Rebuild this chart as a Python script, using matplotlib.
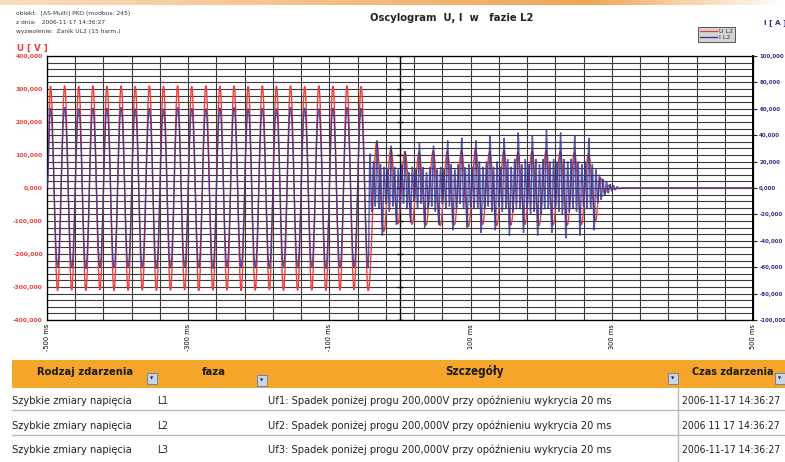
import numpy as np
import matplotlib.pyplot as plt
from matplotlib import font_manager as fm
from matplotlib.path import Path
from matplotlib.patches import PathPatch, Rectangle
from matplotlib.lines import Line2D

# header / title texts
info_lines = ["obiekt:  [AS-Multi] PKO (modbus: 245)",
              "z dnia:   2006-11-17 14:36:27",
              "wyzwolenie:  Zanik UL2 (15 harm.)"]
title = "Oscylogram  U, I  w   fazie L2"
series_names = ["U L2", "I L2"]

# axes ticks
x_ticks = [-500, -300, -100, 100, 300, 500]
x_tick_labels = ["-500 ms", "-300 ms", "-100 ms", "100 ms", "300 ms", "500 ms"]
u_ticks = [-400000, -300000, -200000, -100000, 0, 100000, 200000, 300000, 400000]
u_tick_labels = ["-400,000", "-300,000", "-200,000", "-100,000", "0,000",
                 "100,000", "200,000", "300,000", "400,000"]
i_ticks = [-100000, -80000, -60000, -40000, -20000, 0, 20000, 40000, 60000, 80000, 100000]
i_tick_labels = ["-100,000", "-80,000", "-60,000", "-40,000", "-20,000", "0,000",
                 "20,000", "40,000", "60,000", "80,000", "100,000"]

# before the dip: peak / trough values every half period (ms)
t_pre = [-500, -495, -485, -475, -465, -455, -445, -435, -425, -415, -405,
         -395, -385, -375, -365, -355, -345, -335, -325, -315, -305,
         -295, -285, -275, -265, -255, -245, -235, -225, -215, -205,
         -195, -185, -175, -165, -155, -145, -135, -125, -115, -105,
         -95, -85, -75, -65, -55, -45]
u_pre = [0,
         309000, -311000, 310000, -310000, 308000, -311000, 310000, -309000, 309000, -311000,
         310000, -310000, 308000, -310000, 310000, -311000, 309000, -310000, 310000, -309000,
         308000, -311000, 310000, -310000, 309000, -310000, 310000, -311000, 308000, -310000,
         310000, -309000, 309000, -311000, 310000, -310000, 308000, -310000, 310000, -311000,
         309000, -310000, 310000, -309000, 308000, -311000]
i_pre = [0,
         60500, -60000, 61000, -60500, 60000, -61000, 60500, -60000, 60500, -60500,
         61000, -60000, 60000, -60500, 60500, -61000, 60000, -60500, 61000, -60000,
         60500, -60500, 60000, -61000, 60500, -60000, 61000, -60500, 60000, -60500,
         60500, -61000, 60000, -60000, 61000, -60500, 60500, -60000, 60000, -61000,
         60500, -60500, 61000, -60000, 60500, -60500]

# after the dip: voltage
t_u_post = [-33, -23, -13, -3, 7, 17, 27, 37, 47, 57, 67, 77, 87, 97, 107, 117,
            127, 137, 147, 157, 167, 177, 187, 197, 207, 217, 227, 237, 247, 257,
            267, 277, 284, 290, 296, 302, 310, 500]
u_post = [140000, -132000, 118000, -108000, 110000, -110000, 108000, -112000,
          112000, -114000, 110000, -112000, 112000, -116000, 116000, -110000,
          110000, -114000, 112000, -112000, 108000, -110000, 112000, -114000,
          114000, -112000, 110000, -112000, 108000, -110000, 104000, -100000,
          30000, -15000, 8000, -3000, 0, 0]

# after the dip: current, one row per 20 ms cycle
i_post_cycle_start = [-42.5, -22.5, -2.5, 17.5, 37.5, 57.5, 77.5, 97.5,
                      117.5, 137.5, 157.5, 177.5, 197.5, 217.5, 237.5, 257.5]
i_post_offsets = [0, 2.5, 5, 7.5, 10, 12.5, 15, 17.5]
i_post = [
    [26000, -18000, 20000, -14000, 36000, -16000, 18000, -36000],
    [16000, -12000, 14000, -18000, 32000, -14000, 16000, -28000],
    [14000, -16000, 18000, -12000, 28000, -16000, 12000, -26000],
    [16000, -10000, 14000, -16000, 34000, -12000, 16000, -30000],
    [12000, -16000, 16000, -14000, 32000, -18000, 14000, -28000],
    [16000, -12000, 14000, -16000, 36000, -14000, 18000, -32000],
    [14000, -16000, 18000, -12000, 38000, -16000, 16000, -30000],
    [18000, -14000, 16000, -16000, 36000, -16000, 20000, -34000],
    [16000, -16000, 20000, -14000, 40000, -18000, 16000, -32000],
    [20000, -14000, 16000, -18000, 38000, -16000, 22000, -36000],
    [16000, -18000, 22000, -16000, 42000, -16000, 18000, -34000],
    [22000, -16000, 18000, -20000, 40000, -18000, 22000, -36000],
    [18000, -20000, 22000, -16000, 44000, -16000, 20000, -34000],
    [22000, -16000, 20000, -18000, 42000, -20000, 22000, -38000],
    [20000, -18000, 22000, -16000, 40000, -18000, 20000, -36000],
    [18000, -14000, 20000, -16000, 38000, -16000, 18000, -32000],
]
t_i_tail = [277.5, 280, 282.5, 285, 287.5, 290, 292.5, 295, 297.5, 300,
            302.5, 305, 307.5, 310, 315, 500]
i_tail = [14000, -11000, 10000, -9000, 7000, -6000, 5000, -4000, 3000, -2500,
          2000, -1500, 1000, -600, 0, 0]

# event table
table_cols = ["Rodzaj zdarzenia", "faza", "Szczegóły", "Czas zdarzenia"]
ev_type = ["Szybkie zmiary napięcia"] * 3
ev_phase = ["L1", "L2", "L3"]
ev_detail = ["Uf1: Spadek poniżej progu 200,000V przy opóźnieniu wykrycia 20 ms",
             "Uf2: Spadek poniżej progu 200,000V przy opóźnieniu wykrycia 20 ms",
             "Uf3: Spadek poniżej progu 200,000V przy opóźnieniu wykrycia 20 ms"]
ev_time = ["2006-11-17 14:36:27", "2006 11 17 14:36:27", "2006-11-17 14:36:27"]

RED = "#E8413C"
BLUE = "#2E3192"
W, H = 785, 462


def smooth_path(t, v, k=0.36):
    # cubic segments with flat tangents at each peak
    verts = [(t[0], v[0])]
    codes = [Path.MOVETO]
    for i in range(len(t) - 1):
        dt = t[i + 1] - t[i]
        verts += [(t[i] + k * dt, v[i]), (t[i + 1] - k * dt, v[i + 1]), (t[i + 1], v[i + 1])]
        codes += [Path.CURVE4] * 3
    return Path(verts, codes)


# pick a narrow face for the table if there is one
names = {f.name for f in fm.fontManager.ttflist}
if "Liberation Sans Narrow" in names:
    narrow = dict(family=["Liberation Sans Narrow", "DejaVu Sans"])
else:
    narrow = dict(family=["DejaVu Sans"], fontstretch="condensed")

u_t = t_pre + t_u_post
u_v = u_pre + u_post
i_t = list(t_pre)
i_v = list(i_pre)
for start, row in zip(i_post_cycle_start, i_post):
    i_t += [start + o for o in i_post_offsets]
    i_v += row
i_t += t_i_tail
i_v += i_tail

fig = plt.figure(figsize=(W / 100, H / 100), dpi=100)
fig.patch.set_facecolor("white")

ax = fig.add_axes([47 / W, 1 - 320 / H, 706 / W, 264 / H])
ax.set_xlim(-500, 500)
ax.set_ylim(-400000, 400000)
for gx in np.arange(-500, 501, 40):
    ax.axvline(gx, color="#3a3a3a", lw=0.8, zorder=0.5)
for gy in np.arange(-400000, 400001, 20000):
    ax.axhline(gy, color="#3a3a3a", lw=0.8, zorder=0.5)
ax.axvline(0, color="black", lw=1.0, zorder=0.6)
ax.plot([0] * len(u_ticks), u_ticks, ls="none", marker="_", ms=4, color="black", zorder=0.6)

ax.add_patch(PathPatch(smooth_path(u_t, u_v), fill=False, edgecolor=RED, lw=1.0, zorder=2))
ax.set_xticks(x_ticks, x_tick_labels, rotation=90, fontsize=4.8, va="top")
ax.set_yticks(u_ticks, u_tick_labels, fontsize=4.3, fontweight="bold", color=RED)
ax.tick_params(axis="both", length=0, pad=3)
for s in ax.spines.values():
    s.set_color("#222222")
    s.set_linewidth(0.9)

ax2 = ax.twinx()
ax2.set_ylim(-100000, 100000)
ax2.add_patch(PathPatch(smooth_path(i_t, i_v), fill=False, edgecolor=BLUE, lw=1.0,
                        alpha=0.8, zorder=3))
ax2.set_yticks(i_ticks, i_tick_labels, fontsize=4.0, fontweight="bold", color=BLUE)
ax2.tick_params(axis="y", length=3, pad=1.5, color="#222222")
ax2.spines["right"].set_linewidth(1.4)

leg = ax2.legend([Line2D([], [], color=RED, lw=0.9), Line2D([], [], color=BLUE, lw=0.9)],
                 series_names, loc="upper left", bbox_to_anchor=(698 / W, 1 - 27 / H),
                 bbox_transform=fig.transFigure, fontsize=4.5, handlelength=2.8,
                 handletextpad=0.2, borderpad=0.3, labelspacing=0.05, fancybox=False,
                 framealpha=1, borderaxespad=0)
leg.get_frame().set_facecolor("#D3D3D3")
leg.get_frame().set_edgecolor("#555555")
leg.get_frame().set_linewidth(0.7)
for txt in leg.get_texts():
    txt.set_color("#333333")

# overlay in pixel coordinates for the page decoration and the table
ov = fig.add_axes([0, 0, 1, 1], zorder=-1)
ov.set_xlim(0, W)
ov.set_ylim(H, 0)
ov.axis("off")

grad = np.ones((1, 400, 4))
grad[0, :, :3] = [0.94, 0.63, 0.30]
grad[0, :, 3] = np.concatenate([np.linspace(0.35, 0.95, 300), np.linspace(0.95, 0.0, 100)])
ov.imshow(grad, extent=(0, W, 5, 0), aspect="auto", zorder=0)

for k, line in enumerate(info_lines):
    ov.text(16, 13 + 9.5 * k, line, fontsize=4.3, color="#333333", va="center")
ov.text(452, 18, title, fontsize=7.2, fontweight="bold", ha="center", va="center", color="#222222")
ov.text(17, 48, "U [ V ]", fontsize=6.3, fontweight="bold", color=RED, va="center")
ov.text(764, 23, "I [ A ]", fontsize=5.2, fontweight="bold", color=BLUE, va="center")

ov.add_patch(Rectangle((12, 360), W - 12, 28, facecolor="#F4A52A", edgecolor="none", zorder=1))

renderer = fig.canvas.get_renderer()


def fit(txt, width_px):
    # shrink or grow a text until it spans the width seen in the reference
    w = txt.get_window_extent(renderer).width
    txt.set_fontsize(txt.get_fontsize() * width_px / w)


head_x = [85, 214, 475, 733]
head_w = [96, 24, 58, 82]
for x, name, wpx in zip(head_x, table_cols, head_w):
    t = ov.text(x, 372, name, fontsize=9, fontweight="bold", ha="center",
                va="center", color="#1a1a1a", zorder=3, **narrow)
    fit(t, wpx)
for bx, by in [(147, 373), (257, 375), (668, 373), (775, 373)]:
    ov.add_patch(Rectangle((bx, by), 10, 11, facecolor="#C9D5E6", edgecolor="#6D86A8",
                           lw=0.7, zorder=3))
    ov.text(bx + 5, by + 6, "▼", fontsize=3, ha="center", va="center", color="#222222", zorder=4)

row_y = [401, 426, 450]
for k, y in enumerate(row_y):
    fit(ov.text(12, y, ev_type[k], fontsize=8, va="center", color="#222222", **narrow), 120)
    fit(ov.text(157, y, ev_phase[k], fontsize=8, va="center", color="#222222", **narrow), 11)
    fit(ov.text(268, y, ev_detail[k], fontsize=8, va="center", color="#222222", **narrow), 340)
    fit(ov.text(682, y, ev_time[k], fontsize=8, va="center", color="#222222", **narrow), 98)
for y in [410, 435]:
    ov.plot([12, W], [y, y], color="#BBBBBB", lw=1.0)
ov.plot([678, 678], [388, H], color="#BBBBBB", lw=1.0)

fig.savefig("out.png", dpi=100)
